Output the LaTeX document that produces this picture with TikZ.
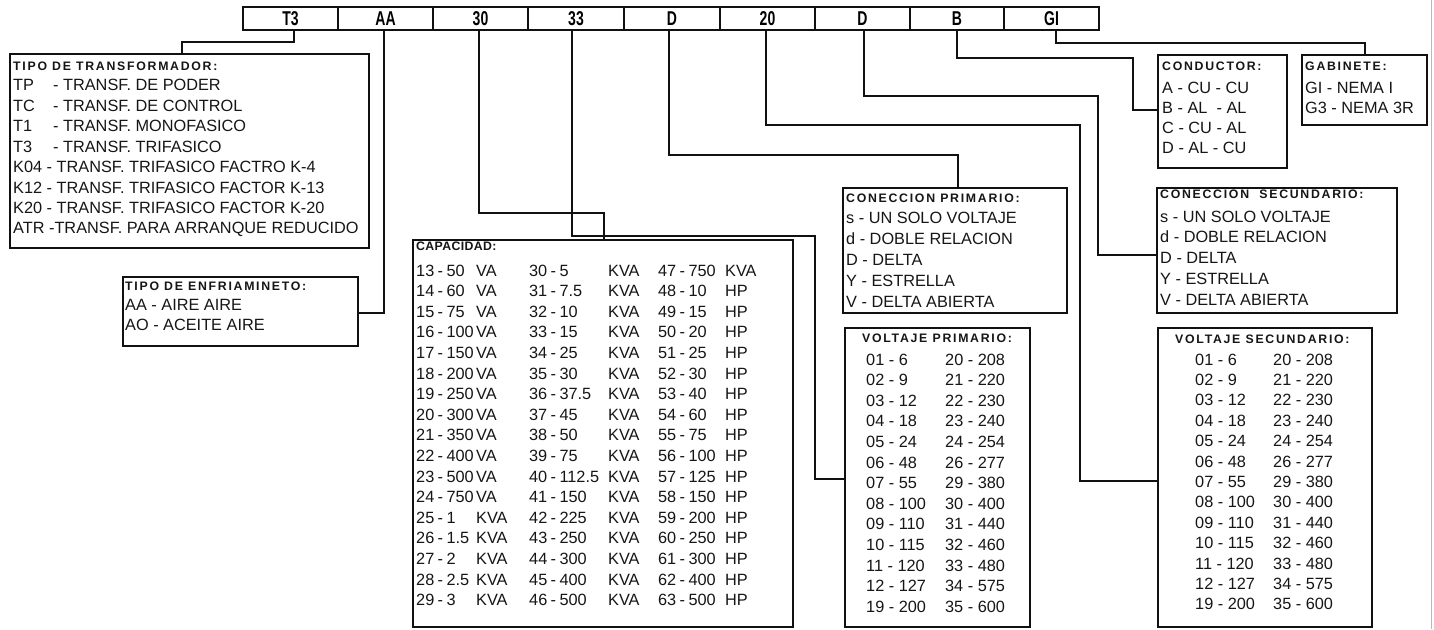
\documentclass[tikz,border=0pt]{standalone}
\usepackage{fontspec}
\setmainfont{Liberation Sans}
\newfontfamily\hdfont{Liberation Sans}[LetterSpace=14]
\newfontfamily\hdfontn{Liberation Sans}[LetterSpace=3]
\definecolor{lc}{HTML}{111111}
\definecolor{tc}{HTML}{161616}
\newcommand\bodyfont{\fontsize{16.3}{20}\selectfont}
\newcommand\hdtext[1]{{\hdfont\bfseries\fontsize{12.3}{14}\selectfont #1}}
\newcommand\hdtextn[1]{{\hdfontn\bfseries\fontsize{12.3}{14}\selectfont #1}}
\newcommand\cellfont{\fontsize{20}{24}\selectfont\bfseries}
\newcommand\onecol[2]{\vtop{\baselineskip=#1pt\lineskiplimit=-100pt\lineskip=0pt\halign{##\hfil\cr#2\crcr}}}
\newcommand\twocol[3]{\vtop{\baselineskip=#1pt\lineskiplimit=-100pt\lineskip=0pt\halign{\hbox to#2pt{##\hfil}&##\hfil\cr#3\crcr}}}
\newcommand\captable[1]{\vtop{\spaceskip=3.4pt\baselineskip=20.6pt\lineskiplimit=-100pt\lineskip=0pt\halign{\hbox to60pt{##\hfil}&\hbox to53pt{##\hfil}&\hbox to79pt{##\hfil}&\hbox to50pt{##\hfil}&\hbox to67pt{##\hfil}&##\hfil\cr#1\crcr}}}
\begin{document}
\begin{tikzpicture}[x=1pt,y=-1pt,
  cell/.style={draw=lc, line width=1.7pt, minimum height=23pt, inner sep=0pt, outer sep=0pt},
  panel/.style={draw=lc, line width=2.4pt, inner sep=0pt, outer sep=0pt, anchor=north west},
  conn/.style={draw=lc, line width=1.9pt},
  txt/.style={anchor=base west, inner sep=0pt, text=tc, font=\bodyfont}]
\useasboundingbox (0,0) rectangle (1434,629);
\fill[white] (0,0) rectangle (1434,629);
\draw[gray!55, line width=1pt] (1431.5,0) -- (1431.5,629);

% code bar
\node[cell, minimum width=95pt] (c1) at (290.5,18.5) {\cellfont\scalebox{0.7}[1]{T3}};
\node[cell, minimum width=95pt] (c2) at (385.5,18.5) {\cellfont\scalebox{0.7}[1]{AA}};
\node[cell, minimum width=95pt] (c3) at (480.5,18.5) {\cellfont\scalebox{0.7}[1]{30}};
\node[cell, minimum width=96pt] (c4) at (576,18.5) {\cellfont\scalebox{0.7}[1]{33}};
\node[cell, minimum width=96pt] (c5) at (672,18.5) {\cellfont\scalebox{0.7}[1]{D}};
\node[cell, minimum width=95pt] (c6) at (767.5,18.5) {\cellfont\scalebox{0.7}[1]{20}};
\node[cell, minimum width=95pt] (c7) at (862.5,18.5) {\cellfont\scalebox{0.7}[1]{D}};
\node[cell, minimum width=94pt] (c8) at (957,18.5) {\cellfont\scalebox{0.7}[1]{B}};
\node[cell, minimum width=95pt] (c9) at (1051.5,18.5) {\cellfont\scalebox{0.7}[1]{GI}};

% panels
\node[panel, minimum width=359pt, minimum height=194pt] (tipo) at (10,54) {};
\node[panel, minimum width=235pt, minimum height=69pt] (enfr) at (123,277) {};
\node[panel, minimum width=380pt, minimum height=387pt] (cap) at (413,240) {};
\node[panel, minimum width=224pt, minimum height=125pt] (conp) at (843,188) {};
\node[panel, minimum width=185pt, minimum height=299pt] (volp) at (845,328) {};
\node[panel, minimum width=129pt, minimum height=113pt] (cond) at (1158,55) {};
\node[panel, minimum width=125pt, minimum height=70pt] (gab) at (1302,55) {};
\node[panel, minimum width=240pt, minimum height=125pt] (cons) at (1157,188) {};
\node[panel, minimum width=214pt, minimum height=299pt] (vols) at (1158,328) {};

% connectors
\draw[conn] (c1.south -| 294,0) -- (294,42) -| (tipo.north -| 182,0);
\draw[conn] (c2.south -| 384,0) |- (enfr.east |- 0,313);
\draw[conn] (c3.south -| 479,0) -- (479,213) -| (cap.north -| 604,0);
\draw[conn] (c4.south -| 572,0) -- (572,236) -| (815,479) -- (volp.west |- 0,479);
\draw[conn] (c5.south -| 669,0) -- (669,155) -| (conp.north -| 958,0);
\draw[conn] (c6.south -| 766,0) -- (766,125) -| (1080,481) -- (vols.west |- 0,481);
\draw[conn] (c7.south -| 864,0) -- (864,96) -| (1098,255) -- (cons.west |- 0,255);
\draw[conn] (c8.south -| 957,0) -- (957,58) -| (1133,110) -- (cond.west |- 0,110);
\draw[conn] (c9.south -| 1056,0) -- (1056,43) -| (gab.north -| 1365,0);

% texts
\node[txt] (tipoH) at (13,70.7) {\hdtext{TIPO DE TRANSFORMADOR:}};
\node[txt] (tipoB) at (13,90.7) {\onecol{20.47}{\hbox to40pt{TP\hfil}- TRANSF. DE PODER\cr
\hbox to40pt{TC\hfil}- TRANSF. DE CONTROL\cr
\hbox to40pt{T1\hfil}- TRANSF. MONOFASICO\cr
\hbox to40pt{T3\hfil}- TRANSF. TRIFASICO\cr
K04 - TRANSF. TRIFASICO FACTRO K-4\cr
K12 - TRANSF. TRIFASICO FACTOR K-13\cr
K20 - TRANSF. TRIFASICO FACTOR K-20\cr
ATR -TRANSF. PARA ARRANQUE REDUCIDO}};

\node[txt] (enfrH) at (125,290) {\hdtext{TIPO DE ENFRIAMINETO:}};
\node[txt] (enfrB) at (125,310) {\onecol{20}{AA - AIRE AIRE\cr AO - ACEITE AIRE}};

\node[txt] (capH) at (416,250) {\hdtextn{CAPACIDAD:}};
\node[txt] (capB) at (416,276) {\captable{
13 - 50&VA&30 - 5&KVA&47 - 750&KVA\cr
14 - 60&VA&31 - 7.5&KVA&48 - 10&HP\cr
15 - 75&VA&32 - 10&KVA&49 - 15&HP\cr
16 - 100&VA&33 - 15&KVA&50 - 20&HP\cr
17 - 150&VA&34 - 25&KVA&51 - 25&HP\cr
18 - 200&VA&35 - 30&KVA&52 - 30&HP\cr
19 - 250&VA&36 - 37.5&KVA&53 - 40&HP\cr
20 - 300&VA&37 - 45&KVA&54 - 60&HP\cr
21 - 350&VA&38 - 50&KVA&55 - 75&HP\cr
22 - 400&VA&39 - 75&KVA&56 - 100&HP\cr
23 - 500&VA&40 - 112.5&KVA&57 - 125&HP\cr
24 - 750&VA&41 - 150&KVA&58 - 150&HP\cr
25 - 1&KVA&42 - 225&KVA&59 - 200&HP\cr
26 - 1.5&KVA&43 - 250&KVA&60 - 250&HP\cr
27 - 2&KVA&44 - 300&KVA&61 - 300&HP\cr
28 - 2.5&KVA&45 - 400&KVA&62 - 400&HP\cr
29 - 3&KVA&46 - 500&KVA&63 - 500&HP}};

\node[txt] (conpH) at (846,202) {\hdtext{CONECCION PRIMARIO:}};
\node[txt] (conpB) at (846,223) {\onecol{21}{s - UN SOLO VOLTAJE\cr d - DOBLE RELACION\cr D - DELTA\cr Y - ESTRELLA\cr V - DELTA ABIERTA}};

\node[txt] (volpH) at (862,342) {\hdtext{VOLTAJE PRIMARIO:}};
\node[txt] (volpB) at (866,365) {\twocol{20.6}{79}{
01 - 6&20 - 208\cr 02 - 9&21 - 220\cr 03 - 12&22 - 230\cr 04 - 18&23 - 240\cr
05 - 24&24 - 254\cr 06 - 48&26 - 277\cr 07 - 55&29 - 380\cr 08 - 100&30 - 400\cr
09 - 110&31 - 440\cr 10 - 115&32 - 460\cr 11 - 120&33 - 480\cr 12 - 127&34 - 575\cr
19 - 200&35 - 600}};

\node[txt] (condH) at (1162,70.7) {\hdtext{CONDUCTOR:}};
\node[txt] (condB) at (1162,93) {\onecol{20}{A - CU - CU\cr B - AL \ - AL\cr C - CU - AL\cr D - AL - CU}};

\node[txt] (gabH) at (1305,70.7) {\hdtext{GABINETE:}};
\node[txt] (gabB) at (1305,93) {\onecol{20}{GI - NEMA I\cr G3 - NEMA 3R}};

\node[txt] (consH) at (1160,198) {\hdtext{CONECCION \ SECUNDARIO:}};
\node[txt] (consB) at (1160,222) {\onecol{20.8}{s - UN SOLO VOLTAJE\cr d - DOBLE RELACION\cr D - DELTA\cr Y - ESTRELLA\cr V - DELTA ABIERTA}};

\node[txt] (volsH) at (1175,343) {\hdtext{VOLTAJE SECUNDARIO:}};
\node[txt] (volsB) at (1195,365) {\twocol{20.4}{78}{
01 - 6&20 - 208\cr 02 - 9&21 - 220\cr 03 - 12&22 - 230\cr 04 - 18&23 - 240\cr
05 - 24&24 - 254\cr 06 - 48&26 - 277\cr 07 - 55&29 - 380\cr 08 - 100&30 - 400\cr
09 - 110&31 - 440\cr 10 - 115&32 - 460\cr 11 - 120&33 - 480\cr 12 - 127&34 - 575\cr
19 - 200&35 - 600}};
\end{tikzpicture}
\end{document}
